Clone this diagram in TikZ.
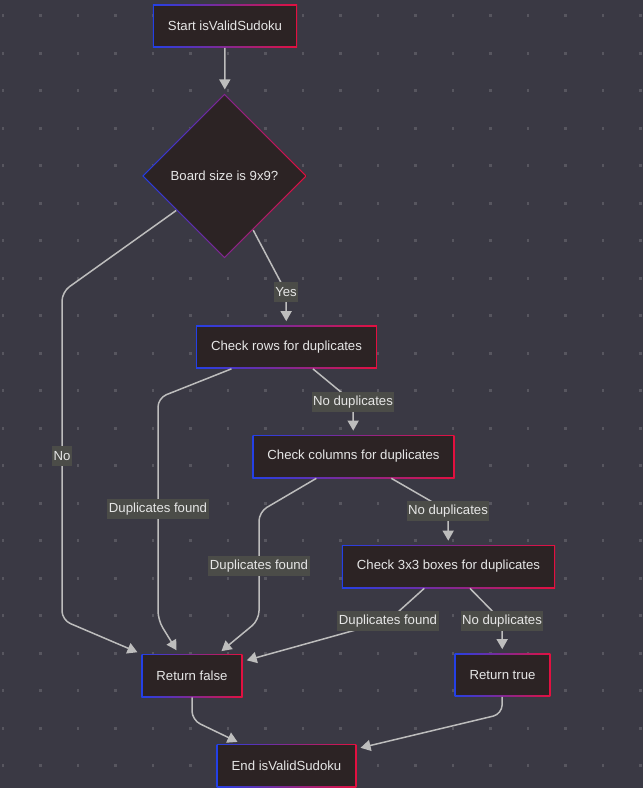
\documentclass[tikz,border=0pt]{standalone}
\usepackage{fontspec}
\setmainfont{Liberation Sans}
\usetikzlibrary{arrows.meta, shapes.geometric}
\definecolor{bgcol}{HTML}{3A3944}
\definecolor{dotcol}{HTML}{57565F}
\definecolor{nodefill}{HTML}{2C2324}
\definecolor{edgeblue}{HTML}{2440E6}
\definecolor{edgered}{HTML}{E3103F}
\definecolor{linecol}{HTML}{BDBDBD}
\definecolor{lblfill}{HTML}{4B4C48}
\definecolor{txtcol}{HTML}{E6E6E6}
\newcommand{\flowfont}{\fontsize{7.5}{9}\selectfont}
\tikzset{
  procbox/.style={rectangle, minimum height=8.6mm, inner xsep=3mm, fill=nodefill, text=txtcol, font=\flowfont,
    path picture={
      \shade[left color=edgeblue, right color=edgered] (path picture bounding box.south west) rectangle (path picture bounding box.north east);
      \fill[nodefill] ([shift={(0.28mm,0.28mm)}]path picture bounding box.south west) rectangle ([shift={(-0.28mm,-0.28mm)}]path picture bounding box.north east);}},
  decbox/.style={diamond, aspect=1, minimum width=33mm, minimum height=33mm, inner sep=0pt, fill=nodefill, text=txtcol, font=\flowfont,
    path picture={
      \shade[left color=edgeblue, right color=edgered] (path picture bounding box.south west) rectangle (path picture bounding box.north east);
      \fill[nodefill] ([yshift=-0.35mm]path picture bounding box.north) -- ([xshift=-0.35mm]path picture bounding box.east) -- ([yshift=0.35mm]path picture bounding box.south) -- ([xshift=0.35mm]path picture bounding box.west) -- cycle;}},
  flow/.style={draw=linecol, line width=0.3mm, -{Triangle[length=2mm,width=2.2mm]}, shorten >=0.8mm, rounded corners=1.8mm},
  lbl/.style={sharp corners, fill=lblfill, text=txtcol, font=\flowfont, inner xsep=0.3mm, inner ysep=0mm, minimum height=4mm}
}
\begin{document}
\begin{tikzpicture}[x=0.02cm, y=-0.02cm]
\useasboundingbox (0,0) rectangle (643,788);
\fill[bgcol] (0,0) rectangle (643,788);
\foreach \i in {0,...,17} \foreach \j in {0,...,20} \fill[dotcol] (1.7+37.5*\i, 14.4+37.5*\j) rectangle ++(2.6,2.6);

\node[procbox] (start) at (225,26) {Start isValidSudoku};
\node[decbox] (size) at (224.5,176) {Board size is 9x9?};
\node[procbox] (rows) at (286.5,347) {Check rows for duplicates};
\node[procbox] (cols) at (353.5,456.5) {Check columns for duplicates};
\node[procbox] (boxes) at (448.5,566.5) {Check 3x3 boxes for duplicates};
\node[procbox] (rfalse) at (192,675.5) {Return false};
\node[procbox] (rtrue) at (502.5,675) {Return true};
\node[procbox] (stop) at (286.5,765.5) {End isValidSudoku};

\draw[flow] (start) -- (size);
\draw[flow] (size) -- (62,292) -- node[lbl]{No} (62,620) -- (rfalse);
\draw[flow] (size) -- (286,292) node[lbl]{Yes} -- (rows);
\draw[flow] (rows) -- (158,398) -- node[lbl]{Duplicates found} (158,620) -- (rfalse);
\draw[flow] (rows) -- (353,402) node[lbl]{No duplicates} -- (cols);
\draw[flow] (cols) -- (259,512) -- node[lbl]{Duplicates found} (259,620) -- (rfalse);
\draw[flow] (cols) -- (448,511) node[lbl]{No duplicates} -- (boxes);
\draw[flow] (boxes) -- (388,621) node[lbl]{Duplicates found} -- (rfalse);
\draw[flow] (boxes) -- (502,621) node[lbl]{No duplicates} -- (rtrue);
\draw[flow] (rfalse) -- (192,720) -- (stop);
\draw[flow] (rtrue) -- (502,714) -- (stop);
\end{tikzpicture}
\end{document}
